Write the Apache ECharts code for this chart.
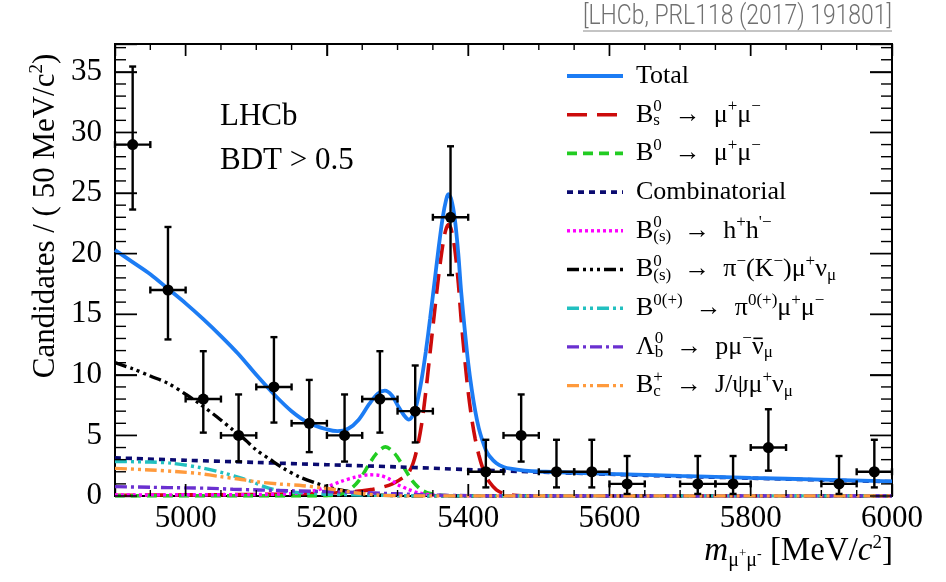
<!DOCTYPE html>
<html>
<head>
<meta charset="utf-8">
<script src="https://cdn.jsdelivr.net/npm/echarts@6/dist/echarts.min.js"></script>
<style>
html,body{margin:0;padding:0;background:#fff;}
#main{width:946px;height:582px;}
</style>
</head>
<body>
<div id="main"></div>
<script>
// ---------------- data ----------------
const X_MIN = 4900, X_MAX = 6000, Y_MIN = 0, Y_MAX = 37.3;
const xMajorTicks = [5000, 5200, 5400, 5600, 5800, 6000];
const xMinorTicks = [4950, 5050, 5100, 5150, 5250, 5300, 5350, 5450, 5500, 5550, 5650, 5700, 5750, 5850, 5900, 5950];
const yMajorTicks = [0, 5, 10, 15, 20, 25, 30, 35];
const yMinorTicks = [1,2,3,4,6,7,8,9,11,12,13,14,16,17,18,19,21,22,23,24,26,27,28,29,31,32,33,34,36,37];

const binCenters = [4925, 4975, 5025, 5075, 5125, 5175, 5225, 5275, 5325, 5375, 5425, 5475, 5525, 5575, 5625, 5725, 5775, 5825, 5925, 5975];
const counts     = [29, 17, 8, 5, 9, 6, 5, 8, 7, 23, 2, 5, 2, 2, 1, 1, 1, 4, 1, 2];
const errLow     = [5.36, 4.08, 2.77, 2.16, 2.94, 2.38, 2.16, 2.77, 2.58, 4.77, 1.29, 2.16, 1.29, 1.29, 0.83, 0.83, 0.83, 1.91, 0.83, 1.29];
const errHigh    = [6.44, 5.20, 3.95, 3.38, 4.11, 3.58, 3.38, 3.95, 3.77, 5.86, 2.64, 3.38, 2.64, 2.64, 2.30, 2.30, 2.30, 3.16, 2.30, 2.64];
const binHalfWidth = 25;

const totalCurve = [[4900,20.3],[4925,19.3],[4950,18.3],[4975,17.1],[5000,15.9],[5025,14.6],[5050,13.2],[5075,11.7],[5100,10.0],[5125,8.4],[5150,7.0],[5175,6.0],[5200,5.5],[5215,5.35],[5230,5.55],[5245,6.3],[5260,7.6],[5272,8.45],[5282,8.7],[5292,8.3],[5302,7.3],[5310,6.6],[5316,6.3],[5322,6.7],[5328,7.8],[5334,9.6],[5340,11.9],[5346,14.6],[5352,17.5],[5358,20.4],[5364,23.0],[5369,24.5],[5372,24.9],[5376,24.5],[5381,22.9],[5386,20.0],[5390,16.9],[5395,13.8],[5400,11.0],[5405,8.8],[5410,7.0],[5415,5.6],[5420,4.6],[5425,3.8],[5430,3.3],[5440,2.7],[5450,2.4],[5460,2.25],[5480,2.1],[5500,2.02],[5600,1.83],[5700,1.66],[5800,1.5],[5900,1.35],[6000,1.2]];
const bsCurve = [[4900,0.06],[5000,0.09],[5100,0.13],[5150,0.17],[5200,0.24],[5230,0.32],[5250,0.42],[5265,0.55],[5280,0.75],[5292,0.98],[5302,1.3],[5310,1.6],[5316,1.95],[5322,2.7],[5328,4.0],[5334,5.9],[5340,8.6],[5346,11.8],[5352,15.0],[5358,18.1],[5364,20.7],[5368,21.9],[5372,22.4],[5376,22.0],[5381,20.4],[5386,17.6],[5390,14.6],[5395,11.4],[5400,8.6],[5405,6.4],[5410,4.7],[5415,3.4],[5420,2.4],[5425,1.7],[5430,1.15],[5440,0.5],[5450,0.2],[5465,0.06],[5490,0.01],[5600,0],[6000,0]];
const b0Curve = [[4900,0.01],[5180,0.01],[5200,0.03],[5220,0.16],[5233,0.55],[5245,1.25],[5258,2.45],[5270,3.5],[5283,4.05],[5296,3.5],[5308,2.45],[5321,1.25],[5333,0.55],[5346,0.2],[5366,0.04],[5400,0.01],[6000,0]];
const combCurve = [[4900,3.15],[5000,2.95],[5100,2.77],[5200,2.58],[5300,2.4],[5400,2.18],[5500,1.97],[5600,1.79],[5700,1.62],[5800,1.47],[5900,1.32],[6000,1.18]];
const hhCurve = [[4900,0.08],[5000,0.1],[5100,0.12],[5150,0.2],[5180,0.4],[5200,0.75],[5220,1.2],[5240,1.55],[5260,1.75],[5275,1.7],[5290,1.35],[5300,0.95],[5315,0.55],[5330,0.25],[5350,0.08],[5380,0.02],[5420,0],[6000,0]];
const pimunuCurve = [[4900,11.0],[4925,10.5],[4950,9.9],[4975,9.3],[5000,8.4],[5020,7.6],[5045,6.5],[5067,5.45],[5085,4.6],[5100,3.8],[5120,3.0],[5138,2.3],[5160,1.6],[5185,1.05],[5210,0.6],[5233,0.35],[5260,0.15],[5290,0.04],[5330,0],[6000,0]];
const pi0mumuCurve = [[4900,2.85],[4950,2.8],[4981,2.7],[5020,2.35],[5056,1.87],[5080,1.45],[5094,1.18],[5110,0.8],[5130,0.48],[5160,0.28],[5200,0.15],[5260,0.07],[5320,0.02],[5360,0],[6000,0]];
const lambdaCurve = [[4900,0.77],[4950,0.72],[5000,0.67],[5037,0.63],[5067,0.56],[5103,0.5],[5150,0.43],[5209,0.35],[5250,0.28],[5300,0.18],[5350,0.08],[5400,0.03],[5450,0],[6000,0]];
const bcCurve = [[4900,2.28],[4950,2.15],[4990,2.0],[5020,1.85],[5047,1.62],[5075,1.4],[5100,1.18],[5130,1.0],[5166,0.85],[5200,0.62],[5220,0.45],[5240,0.27],[5270,0.08],[5300,0.02],[5330,0],[6000,0]];

// ---------------- styling ----------------
const SERIF_NAME = 'Liberation Serif';
const SER = "'Liberation Serif','DejaVu Serif',serif";
const C = {
  total:'#1c7cf4', bs:'#cc0b0b', b0:'#22cc22', comb:'#0a0a70', hh:'#ff00ff',
  pimunu:'#000000', pi0:'#22c0c0', lambda:'#6a30d0', bc:'#ff9a3c'
};
const styles = [
  {name:'Bs',   data:bsCurve,      color:C.bs,     w:3.6, dash:[20,10]},
  {name:'B0',   data:b0Curve,      color:C.b0,     w:3.6, dash:[10,6]},
  {name:'comb', data:combCurve,    color:C.comb,   w:3.6, dash:[6,5]},
  {name:'hh',   data:hhCurve,      color:C.hh,     w:3.4, dash:[3,3]},
  {name:'pimunu', data:pimunuCurve, color:C.pimunu, w:3.4, dash:[12,4,3,4,3,4,3,4]},
  {name:'pi0',  data:pi0mumuCurve, color:C.pi0,    w:3.4, dash:[12,4,3,4,3,4]},
  {name:'lambda', data:lambdaCurve, color:C.lambda, w:3.4, dash:[12,4,3,4]},
  {name:'bc',   data:bcCurve,      color:C.bc,     w:3.4, dash:[12,4,3,4,3,4]},
  {name:'total', data:totalCurve,  color:C.total,  w:3.8, dash:'solid'}
];

// ---------------- text composition helpers ----------------
const mctx = document.createElement('canvas').getContext('2d');
function tw(t, font){ mctx.font = font; return mctx.measureText(t).width; }
function comp(x0, y0, segs, S, fill) {
  const els = []; let x = x0; let stackX = null, stackW = 0;
  for (let seg of segs) {
    if (typeof seg === 'string') seg = {t: seg};
    const sz = seg.sz || S;
    const font = (seg.it ? 'italic ' : '') + sz + 'px ' + SER;
    const w = tw(seg.t, font);
    const sx = stackX !== null ? stackX : x;
    const yy = y0 + (seg.dy || 0);
    els.push({type:'text', x: sx, y: yy, silent:true, z:50,
      style:{text: seg.t, font: font, fill: fill, align:'left', verticalAlign:'middle', textAlign:'left', textVerticalAlign:'middle'}});
    if (seg.over) {
      els.push({type:'line', silent:true, z:50,
        shape:{x1:sx+1.5, y1:yy-0.33*sz, x2:sx+w-1, y2:yy-0.33*sz}, style:{stroke:fill, lineWidth:1.6}});
    }
    if (seg.stack) { stackX = sx; stackW = w; }
    else if (stackX !== null) { x = stackX + Math.max(stackW, w); stackX = null; }
    else x = sx + w;
  }
  return {els: els, w: x - x0};
}
const LS = 26, ls = 17;
const sup = t => ({t:t, sz:ls, dy:-8});
const supS = t => ({t:t, sz:ls, dy:-8, stack:true});
const sub = t => ({t:t, sz:ls, dy:6});
const ARROW = '  →  ';

const legendRows = [
  {key:'total', segs:['Total']},
  {key:'Bs', segs:['B', supS('0'), sub('s'), ARROW + 'μ', sup('+'), 'μ', sup('−')]},
  {key:'B0', segs:['B', sup('0'), ARROW + 'μ', sup('+'), 'μ', sup('−')]},
  {key:'comb', segs:['Combinatorial']},
  {key:'hh', segs:['B', supS('0'), sub('(s)'), ARROW + 'h', sup('+'), 'h', sup("'−")]},
  {key:'pimunu', segs:['B', supS('0'), sub('(s)'), ARROW + 'π', sup('−'), '(K', sup('−'), ')μ', sup('+'), 'ν', sub('μ')]},
  {key:'pi0', segs:['B', sup('0(+)'), ARROW + 'π', sup('0(+)'), 'μ', sup('+'), 'μ', sup('−')]},
  {key:'lambda', segs:['Λ', supS('0'), sub('b'), ARROW + 'pμ', sup('−'), {t:'ν', over:true}, sub('μ')]},
  {key:'bc', segs:['B', supS('+'), sub('c'), ARROW + 'J/ψμ', sup('+'), 'ν', sub('μ')]}
];

// ---------------- chart ----------------
const chart = echarts.init(document.getElementById('main'), null, {renderer:'canvas'});

const series = styles.map(s => ({
  type:'line', name:s.name, data:s.data, xAxisIndex:0, yAxisIndex:0,
  showSymbol:false, symbol:'none', smooth:0.3, silent:true, z: s.name === 'total' ? 5 : 3,
  lineStyle:{color:s.color, width:s.w, type:s.dash}
}));

// rows: [x, y, low, high, kind]  kind 0 = data point, 1/2 = x major/minor tick, 3/4 = y major/minor tick
const markRows = binCenters.map((c, i) => [c, counts[i], counts[i] - errLow[i], counts[i] + errHigh[i], 0])
  .concat(xMajorTicks.map(v => [v, Y_MIN, 0, 0, 1]))
  .concat(xMinorTicks.map(v => [v, Y_MIN, 0, 0, 2]))
  .concat(yMajorTicks.map(v => [X_MIN, v, 0, 0, 3]))
  .concat(yMinorTicks.map(v => [X_MIN, v, 0, 0, 4]));

series.push({
  type:'custom', name:'data', z:10, silent:true, xAxisIndex:0, yAxisIndex:0,
  data: markRows,
  renderItem: function (params, api) {
    const kind = api.value(4);
    const x = api.value(0), y = api.value(1);
    if (kind >= 1) {
      const corner1 = api.coord([X_MIN, Y_MAX]);
      const corner2 = api.coord([X_MAX, Y_MIN]);
      const p = api.coord([x, y]);
      const tst = {stroke:'#000', lineWidth:1.4};
      if (kind <= 2) {
        const len = kind === 1 ? 12 : 6;
        return {type:'group', children:[
          {type:'line', shape:{x1:p[0], y1:corner2[1], x2:p[0], y2:corner2[1] - len}, style:tst},
          {type:'line', shape:{x1:p[0], y1:corner1[1], x2:p[0], y2:corner1[1] + len}, style:{stroke:'#000', lineWidth:1.4}}
        ]};
      }
      const len = kind === 3 ? 22 : 11;
      return {type:'group', children:[
        {type:'line', shape:{x1:corner1[0], y1:p[1], x2:corner1[0] + len, y2:p[1]}, style:tst},
        {type:'line', shape:{x1:corner2[0], y1:p[1], x2:corner2[0] - len, y2:p[1]}, style:{stroke:'#000', lineWidth:1.4}}
      ]};
    }
    const lo = api.value(2), hi = api.value(3);
    const p = api.coord([x, y]);
    const pl = api.coord([x - binHalfWidth, y]);
    const pr = api.coord([x + binHalfWidth, y]);
    const plo = api.coord([x, lo]);
    const phi = api.coord([x, hi]);
    const cap = 3.5;
    return {type:'group', children:[
      {type:'line', shape:{x1:pl[0], y1:p[1], x2:pr[0], y2:p[1]}, style:{stroke:'#000', lineWidth:2.4}},
      {type:'line', shape:{x1:p[0], y1:plo[1], x2:p[0], y2:phi[1]}, style:{stroke:'#000', lineWidth:2.4}},
      {type:'line', shape:{x1:pl[0], y1:p[1]-cap, x2:pl[0], y2:p[1]+cap}, style:{stroke:'#000', lineWidth:2.4}},
      {type:'line', shape:{x1:pr[0], y1:p[1]-cap, x2:pr[0], y2:p[1]+cap}, style:{stroke:'#000', lineWidth:2.4}},
      {type:'line', shape:{x1:p[0]-cap, y1:plo[1], x2:p[0]+cap, y2:plo[1]}, style:{stroke:'#000', lineWidth:2.4}},
      {type:'line', shape:{x1:p[0]-cap, y1:phi[1], x2:p[0]+cap, y2:phi[1]}, style:{stroke:'#000', lineWidth:2.4}},
      {type:'circle', shape:{cx:p[0], cy:p[1], r:5.5}, style:{fill:'#000'}}
    ]};
  }
});

function xAxisOpt(position, showLabel) {
  return {type:'value', min:X_MIN, max:X_MAX, position:position,
    axisLine:{show:true, onZero:false, lineStyle:{color:'#000', width:2}},
    axisTick:{show:true, inside:true, length:12, lineStyle:{color:'#000', width:1.4}},
    axisLabel:{show:showLabel, customValues:xMajorTicks, margin:7, color:'#000', fontSize:31, fontFamily:SERIF_NAME, formatter: v => String(v)},
    splitLine:{show:false}};
}
function yAxisOpt(position, showLabel) {
  return {type:'value', min:Y_MIN, max:Y_MAX, interval:5, position:position,
    axisLine:{show:true, onZero:false, lineStyle:{color:'#000', width:2}},
    axisTick:{show:true, inside:true, length:22, lineStyle:{color:'#000', width:1.4}},
    axisLabel:{show:showLabel, customValues:yMajorTicks, margin:13, color:'#000', fontSize:31, fontFamily:SERIF_NAME, formatter: v => (v % 5 === 0 ? String(v) : '')},
    splitLine:{show:false}};
}

// ---------------- overlay graphics (text, legend) ----------------
const graphics = [];
legendRows.forEach((row, i) => {
  const y = 76 + i * 38.7;
  const st = styles.find(s => s.name === row.key);
  const ls0 = {stroke:st.color, lineWidth:st.w};
  if (st.dash !== 'solid') ls0.lineDash = st.dash;
  graphics.push({type:'line', silent:true, z:50, shape:{x1:567, y1:y, x2:623, y2:y}, style:ls0});
  comp(636, y, row.segs, LS, '#000').els.forEach(e => graphics.push(e));
});
comp(220, 117, ['LHCb'], 31, '#000').els.forEach(e => graphics.push(e));
comp(220, 161, ['BDT > 0.5'], 31, '#000').els.forEach(e => graphics.push(e));
const xt = comp(0, 0, [{t:'m', it:true}, {t:'μ', sz:20, dy:10}, {t:'+', sz:13, dy:3}, {t:'μ', sz:20, dy:10}, {t:'-', sz:14, dy:3},
  ' [MeV/', {t:'c', it:true}, {t:'2', sz:19, dy:-8}, ']'], 33, '#000');
xt.els.forEach(e => { e.x += 893 - xt.w; e.y += 551; graphics.push(e); });
const citeFont = "300 27px Roboto, 'Liberation Sans', sans-serif";
const citeText = '[LHCb, PRL118 (2017) 191801]';
const citeScale = 309 / tw(citeText, citeFont);
graphics.push({type:'text', x:892 - 309, y:17, scaleX:citeScale, silent:true,
  style:{text:citeText, font:citeFont, fill:'#707070', align:'left', verticalAlign:'middle', textAlign:'left', textVerticalAlign:'middle'}});
graphics.push({type:'line', silent:true, shape:{x1:583, y1:31, x2:892, y2:31}, style:{stroke:'#8a8a8a', lineWidth:1.2}});
const yt = comp(0, 0, ['Candidates / ( 50 MeV/c', {t:'2', sz:19, dy:-9}, ')'], 31, '#000');
yt.els.forEach(e => { e.x -= yt.w / 2; });
graphics.push({type:'group', x:46, y:216, rotation:Math.PI/2, children: yt.els});

chart.setOption({
  animation:false,
  backgroundColor:'#fff',
  grid:{left:115, right:54, top:44, bottom:86, show:true, borderColor:'#000', borderWidth:2},
  xAxis:[xAxisOpt('bottom', true), xAxisOpt('top', false)],
  yAxis:[yAxisOpt('left', true), yAxisOpt('right', false)],
  series: series,
  graphic: graphics
});
</script>
</body>
</html>
